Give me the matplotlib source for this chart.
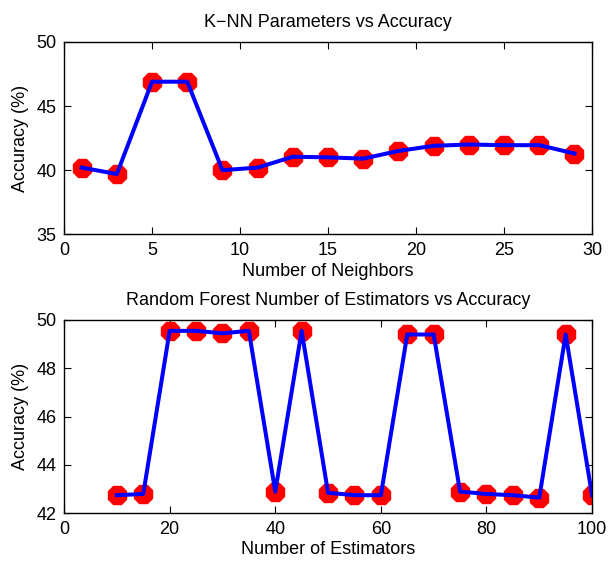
import numpy as np
import matplotlib.pyplot as plt

plt.rcParams['font.family'] = ['Liberation Sans', 'DejaVu Sans']

# K-NN: number of neighbors vs accuracy
neighbors = [1, 3, 5, 7, 9, 11, 13, 15, 17, 19, 21, 23, 25, 27, 29]
knn_acc = [40.2, 39.7, 46.9, 46.9, 40.0, 40.2, 41.05, 41.0, 40.9, 41.5,
           41.9, 42.0, 41.95, 41.95, 41.3]

# Random forest: number of estimators vs accuracy
estimators = [10, 15, 20, 25, 30, 35, 40, 45, 50, 55, 60, 65, 70, 75, 80,
              85, 90, 95, 100]
rf_acc = [42.75, 42.8, 49.55, 49.55, 49.45, 49.55, 42.9, 49.55, 42.85, 42.75,
          42.75, 49.4, 49.4, 42.9, 42.8, 42.75, 42.65, 49.4, 42.75]

fs = 13

fig = plt.figure(figsize=(6.1, 5.61), dpi=100)
ax1 = fig.add_axes([0.105, 0.5824, 0.8656, 0.3428])
ax2 = fig.add_axes([0.105, 0.085, 0.8656, 0.3446])


def style(ax):
    ax.tick_params(direction='in', top=True, right=True, length=5,
                   width=0.8, labelsize=fs, pad=5.5)
    for s in ax.spines.values():
        s.set_linewidth(1.0)


ax1.plot(neighbors, knn_acc, linestyle='none', marker='8', ms=13.5,
         color='red', mec='red')
ax1.plot(neighbors, knn_acc, color='blue', lw=2.9)
ax1.set_xlim(0, 30)
ax1.set_ylim(35, 50)
ax1.set_xticks(range(0, 31, 5))
ax1.set_yticks([35, 40, 45, 50])
ax1.set_title('K\u2212NN Parameters vs Accuracy', fontsize=fs, pad=10.5)
ax1.set_xlabel('Number of Neighbors', fontsize=fs, labelpad=3)
ax1.set_ylabel('Accuracy (%)', fontsize=fs, labelpad=5)
style(ax1)

ax2.plot(estimators, rf_acc, linestyle='none', marker='8', ms=13.5,
         color='red', mec='red')
ax2.plot(estimators, rf_acc, color='blue', lw=2.9)
ax2.set_xlim(0, 100)
ax2.set_ylim(42, 50)
ax2.set_xticks(range(0, 101, 20))
ax2.set_yticks(range(42, 51, 2))
ax2.set_title('Random Forest Number of Estimators vs Accuracy', fontsize=fs,
              pad=10.5)
ax2.set_xlabel('Number of Estimators', fontsize=fs, labelpad=2)
ax2.set_ylabel('Accuracy (%)', fontsize=fs, labelpad=5)
style(ax2)

fig.savefig('out.png', dpi=100)
